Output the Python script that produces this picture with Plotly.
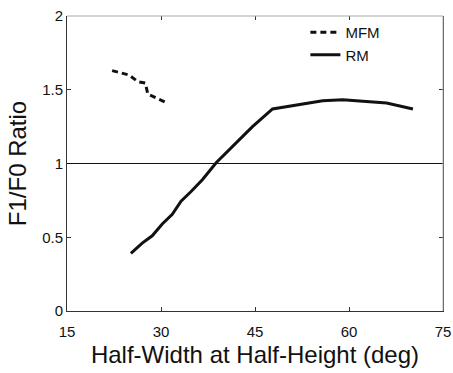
import plotly.graph_objects as go

# Data
mfm_hwhh = [22.2, 24.9, 26.3, 27.5, 27.9, 28.9, 31.0]
mfm_ratio = [1.63, 1.60, 1.555, 1.545, 1.47, 1.45, 1.41]

rm_hwhh = [25.2, 27.0, 28.6, 30.2, 31.8, 33.2, 34.8, 36.6, 38.8, 42.0,
           44.6, 47.8, 52.1, 55.8, 59.0, 62.8, 66.0, 68.1, 70.2]
rm_ratio = [0.39, 0.46, 0.51, 0.59, 0.655, 0.745, 0.81, 0.89, 1.005, 1.14,
            1.25, 1.37, 1.40, 1.425, 1.432, 1.42, 1.41, 1.39, 1.37]

ref_ratio = 1.0
x_ticks = [15, 30, 45, 60, 75]
y_ticks = [0, 0.5, 1, 1.5, 2]
y_tick_labels = ["0", "0.5", "1", "1.5", "2"]

FONT = "Liberation Sans, Arial, Helvetica, sans-serif"
X_RANGE = [15, 75]

fig = go.Figure()
fig.add_trace(go.Scatter(x=mfm_hwhh, y=mfm_ratio, mode="lines", name="MFM",
                         line=dict(color="#111111", width=3, dash="6px,4px")))
fig.add_trace(go.Scatter(x=rm_hwhh, y=rm_ratio, mode="lines", name="RM",
                         line=dict(color="#111111", width=3)))
# invisible copy on the overlay axis that carries the inside ticks
fig.add_trace(go.Scatter(x=rm_hwhh, y=rm_ratio, xaxis="x2", mode="lines",
                         line=dict(color="rgba(0,0,0,0)", width=0),
                         showlegend=False, hoverinfo="skip"))

fig.add_hline(y=ref_ratio, line=dict(color="#111111", width=1))

# lighter top/right frame edges, as in the reference
fig.add_shape(type="line", xref="paper", yref="paper", x0=0, x1=1, y0=1, y1=1,
              line=dict(color="#aaaaaa", width=1), layer="above")
fig.add_shape(type="line", xref="paper", yref="paper", x0=1, x1=1, y0=0, y1=1,
              line=dict(color="#aaaaaa", width=1), layer="above")

fig.update_layout(
    width=453, height=373,
    margin=dict(l=67, r=10, t=16, b=62),
    paper_bgcolor="white", plot_bgcolor="white",
    font=dict(family=FONT, color="#111111", size=15),
    showlegend=True,
    legend=dict(x=0.634, y=1.0, xanchor="left", yanchor="top",
                bgcolor="rgba(0,0,0,0)", borderwidth=0,
                font=dict(size=15, family=FONT), tracegroupgap=0),
    xaxis=dict(range=X_RANGE, tickmode="array", tickvals=x_ticks,
               ticks="outside", ticklen=7, tickcolor="rgba(0,0,0,0)",
               showline=True, linecolor="#333333", linewidth=1,
               automargin=False, showgrid=False, zeroline=False,
               tickfont=dict(size=15),
               title=dict(text="Half-Width at Half-Height (deg)",
                          font=dict(size=24), standoff=7)),
    xaxis2=dict(range=X_RANGE, tickmode="array", tickvals=x_ticks,
                ticks="inside", ticklen=4, tickwidth=1, tickcolor="#333333",
                showline=False, mirror="ticks", showticklabels=False,
                automargin=False, showgrid=False, zeroline=False,
                overlaying="x", side="bottom", anchor="y"),
    yaxis=dict(range=[0, 2], tickmode="array", tickvals=y_ticks,
               ticktext=y_tick_labels,
               ticks="inside", ticklen=4, tickwidth=1, tickcolor="#333333",
               showline=True, linecolor="#333333", linewidth=1,
               mirror="ticks", automargin=False,
               showgrid=False, zeroline=False,
               tickfont=dict(size=15),
               title=dict(text="F1/F0 Ratio", font=dict(size=24), standoff=8)),
)

fig.write_html(
    "out.html",
    config={"displayModeBar": False},
    post_script="document.documentElement.style.margin='0';"
                "document.body.style.margin='0';"
                "document.body.style.overflow='hidden';",
)
